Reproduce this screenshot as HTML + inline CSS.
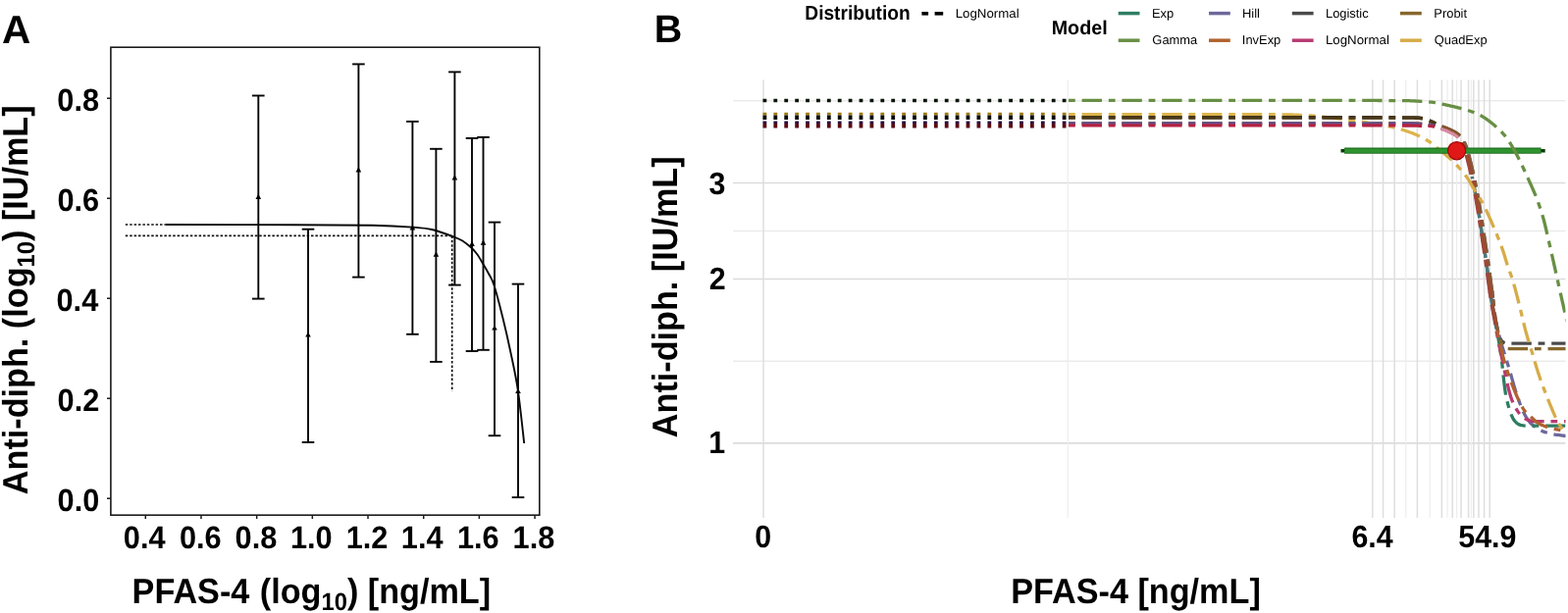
<!DOCTYPE html>
<html><head><meta charset="utf-8"><style>
html,body{margin:0;padding:0;background:#fff;}
svg{display:block;font-family:'Liberation Sans', Arial, Helvetica, sans-serif;text-rendering:geometricPrecision;}
</style></head><body>
<svg width="1598" height="625" viewBox="0 0 1598 625">
<rect width="1598" height="625" fill="#fff"/>
<text transform="translate(1.89,44.00) scale(1.0,1)" font-size="40.5" font-weight="bold" fill="#000" >A</text>
<rect x="112.9" y="48.2" width="436.9" height="477" fill="none" stroke="#1a1a1a" stroke-width="1.6"/>
<line x1="109" y1="508.20" x2="113" y2="508.20" stroke="#1a1a1a" stroke-width="1.5"/>
<text transform="translate(58.59,521.20) scale(0.955,1)" font-size="32.2" font-weight="bold" fill="#000" >0.0</text>
<line x1="109" y1="406.20" x2="113" y2="406.20" stroke="#1a1a1a" stroke-width="1.5"/>
<text transform="translate(58.59,419.20) scale(0.955,1)" font-size="32.2" font-weight="bold" fill="#000" >0.2</text>
<line x1="109" y1="304.20" x2="113" y2="304.20" stroke="#1a1a1a" stroke-width="1.5"/>
<text transform="translate(57.51,317.20) scale(0.955,1)" font-size="32.2" font-weight="bold" fill="#000" >0.4</text>
<line x1="109" y1="202.20" x2="113" y2="202.20" stroke="#1a1a1a" stroke-width="1.5"/>
<text transform="translate(58.43,215.20) scale(0.955,1)" font-size="32.2" font-weight="bold" fill="#000" >0.6</text>
<line x1="109" y1="100.20" x2="113" y2="100.20" stroke="#1a1a1a" stroke-width="1.5"/>
<text transform="translate(58.28,113.20) scale(0.955,1)" font-size="32.2" font-weight="bold" fill="#000" >0.8</text>
<line x1="148.30" y1="525" x2="148.30" y2="529" stroke="#1a1a1a" stroke-width="1.5"/>
<text transform="translate(125.79,559.20) scale(0.955,1)" font-size="32.2" font-weight="bold" fill="#000" >0.4</text>
<line x1="204.98" y1="525" x2="204.98" y2="529" stroke="#1a1a1a" stroke-width="1.5"/>
<text transform="translate(182.93,559.20) scale(0.955,1)" font-size="32.2" font-weight="bold" fill="#000" >0.6</text>
<line x1="261.66" y1="525" x2="261.66" y2="529" stroke="#1a1a1a" stroke-width="1.5"/>
<text transform="translate(239.53,559.20) scale(0.955,1)" font-size="32.2" font-weight="bold" fill="#000" >0.8</text>
<line x1="318.34" y1="525" x2="318.34" y2="529" stroke="#1a1a1a" stroke-width="1.5"/>
<text transform="translate(295.98,559.20) scale(0.955,1)" font-size="32.2" font-weight="bold" fill="#000" >1.0</text>
<line x1="375.02" y1="525" x2="375.02" y2="529" stroke="#1a1a1a" stroke-width="1.5"/>
<text transform="translate(352.66,559.20) scale(0.955,1)" font-size="32.2" font-weight="bold" fill="#000" >1.2</text>
<line x1="431.70" y1="525" x2="431.70" y2="529" stroke="#1a1a1a" stroke-width="1.5"/>
<text transform="translate(408.81,559.20) scale(0.955,1)" font-size="32.2" font-weight="bold" fill="#000" >1.4</text>
<line x1="488.38" y1="525" x2="488.38" y2="529" stroke="#1a1a1a" stroke-width="1.5"/>
<text transform="translate(465.95,559.20) scale(0.955,1)" font-size="32.2" font-weight="bold" fill="#000" >1.6</text>
<line x1="545.06" y1="525" x2="545.06" y2="529" stroke="#1a1a1a" stroke-width="1.5"/>
<text transform="translate(522.55,559.20) scale(0.955,1)" font-size="32.2" font-weight="bold" fill="#000" >1.8</text>
<text transform="translate(134.6,614.9) scale(0.95,1)" font-size="36.0" font-weight="bold">PFAS-4 <tspan dx="1.0">(log</tspan><tspan font-size="25" dy="7">10</tspan><tspan dy="-7">) [ng/mL]</tspan></text>
<text transform="translate(27.9,504.2) rotate(-90) scale(0.95,1)" font-size="36.0" font-weight="bold">Anti-diph. (log<tspan font-size="25" dy="7">10</tspan><tspan dy="-7">) [IU/mL]</tspan></text>
<line x1="127.8" y1="229" x2="168.4" y2="229" stroke="#111" stroke-width="1.7" stroke-dasharray="2.5 1.9"/>
<line x1="127.8" y1="240.4" x2="460.7" y2="240.4" stroke="#111" stroke-width="1.7" stroke-dasharray="2.5 1.9"/>
<line x1="460.7" y1="240.4" x2="460.7" y2="399" stroke="#111" stroke-width="1.7" stroke-dasharray="2.5 1.9"/>
<path d="M168.40,229.00 C190.33,229.03 264.73,229.07 300.00,229.20 C335.27,229.33 360.00,229.40 380.00,229.80 C400.00,230.20 410.00,230.90 420.00,231.60 C430.00,232.30 432.77,232.30 440.00,234.00 C447.23,235.70 458.07,239.80 463.40,241.80 C468.73,243.80 469.23,244.25 472.00,246.00 C474.77,247.75 477.58,250.05 480.00,252.30 C482.42,254.55 484.40,256.62 486.50,259.50 C488.60,262.38 490.68,266.35 492.60,269.60 C494.52,272.85 496.20,275.52 498.00,279.00 C499.80,282.48 501.00,283.00 503.40,290.50 C505.80,298.00 509.57,312.55 512.40,324.00 C515.23,335.45 517.83,346.93 520.40,359.20 C522.97,371.47 525.50,382.13 527.80,397.60 C530.10,413.07 533.13,442.93 534.20,452.00" fill="none" stroke="#0a0a0a" stroke-width="1.9"/>
<line x1="263.3" y1="97.5" x2="263.3" y2="304.6" stroke="#050505" stroke-width="1.9"/>
<line x1="257.0" y1="97.5" x2="269.6" y2="97.5" stroke="#050505" stroke-width="1.9"/>
<line x1="257.0" y1="304.6" x2="269.6" y2="304.6" stroke="#050505" stroke-width="1.9"/>
<path d="M263.3,197.8 L266.1,203.0 L260.5,203.0 Z" fill="#000"/>
<line x1="314.0" y1="233.7" x2="314.0" y2="450.9" stroke="#050505" stroke-width="1.9"/>
<line x1="307.7" y1="233.7" x2="320.3" y2="233.7" stroke="#050505" stroke-width="1.9"/>
<line x1="307.7" y1="450.9" x2="320.3" y2="450.9" stroke="#050505" stroke-width="1.9"/>
<path d="M314.0,338.4 L316.8,343.6 L311.2,343.6 Z" fill="#000"/>
<line x1="365.4" y1="65.4" x2="365.4" y2="282.6" stroke="#050505" stroke-width="1.9"/>
<line x1="359.1" y1="65.4" x2="371.7" y2="65.4" stroke="#050505" stroke-width="1.9"/>
<line x1="359.1" y1="282.6" x2="371.7" y2="282.6" stroke="#050505" stroke-width="1.9"/>
<path d="M365.4,170.3 L368.2,175.5 L362.6,175.5 Z" fill="#000"/>
<line x1="420.4" y1="123.9" x2="420.4" y2="340.8" stroke="#050505" stroke-width="1.9"/>
<line x1="414.1" y1="123.9" x2="426.7" y2="123.9" stroke="#050505" stroke-width="1.9"/>
<line x1="414.1" y1="340.8" x2="426.7" y2="340.8" stroke="#050505" stroke-width="1.9"/>
<path d="M420.4,229.2 L423.2,234.4 L417.6,234.4 Z" fill="#000"/>
<line x1="444.4" y1="151.8" x2="444.4" y2="368.9" stroke="#050505" stroke-width="1.9"/>
<line x1="438.1" y1="151.8" x2="450.7" y2="151.8" stroke="#050505" stroke-width="1.9"/>
<line x1="438.1" y1="368.9" x2="450.7" y2="368.9" stroke="#050505" stroke-width="1.9"/>
<path d="M444.4,256.6 L447.2,261.8 L441.6,261.8 Z" fill="#000"/>
<line x1="463.4" y1="73.4" x2="463.4" y2="290.6" stroke="#050505" stroke-width="1.9"/>
<line x1="457.1" y1="73.4" x2="469.7" y2="73.4" stroke="#050505" stroke-width="1.9"/>
<line x1="457.1" y1="290.6" x2="469.7" y2="290.6" stroke="#050505" stroke-width="1.9"/>
<path d="M463.4,178.2 L466.2,183.4 L460.6,183.4 Z" fill="#000"/>
<line x1="481.0" y1="140.9" x2="481.0" y2="358.0" stroke="#050505" stroke-width="1.9"/>
<line x1="474.7" y1="140.9" x2="487.3" y2="140.9" stroke="#050505" stroke-width="1.9"/>
<line x1="474.7" y1="358.0" x2="487.3" y2="358.0" stroke="#050505" stroke-width="1.9"/>
<path d="M481.0,245.8 L483.8,251.0 L478.2,251.0 Z" fill="#000"/>
<line x1="492.5" y1="139.9" x2="492.5" y2="356.8" stroke="#050505" stroke-width="1.9"/>
<line x1="486.2" y1="139.9" x2="498.8" y2="139.9" stroke="#050505" stroke-width="1.9"/>
<line x1="486.2" y1="356.8" x2="498.8" y2="356.8" stroke="#050505" stroke-width="1.9"/>
<path d="M492.5,244.6 L495.3,249.8 L489.7,249.8 Z" fill="#000"/>
<line x1="504.0" y1="226.6" x2="504.0" y2="444.2" stroke="#050505" stroke-width="1.9"/>
<line x1="497.7" y1="226.6" x2="510.3" y2="226.6" stroke="#050505" stroke-width="1.9"/>
<line x1="497.7" y1="444.2" x2="510.3" y2="444.2" stroke="#050505" stroke-width="1.9"/>
<path d="M504.0,331.4 L506.8,336.6 L501.2,336.6 Z" fill="#000"/>
<line x1="528.0" y1="289.6" x2="528.0" y2="507.1" stroke="#050505" stroke-width="1.9"/>
<line x1="521.7" y1="289.6" x2="534.3" y2="289.6" stroke="#050505" stroke-width="1.9"/>
<line x1="521.7" y1="507.1" x2="534.3" y2="507.1" stroke="#050505" stroke-width="1.9"/>
<path d="M528.0,395.9 L530.8,401.1 L525.2,401.1 Z" fill="#000"/>
<text transform="translate(666.63,42.70) scale(1.0,1)" font-size="39.5" font-weight="bold" fill="#000" >B</text>
<line x1="747" y1="368.14" x2="1595.5" y2="368.14" stroke="#ebebeb" stroke-width="1.5"/>
<line x1="747" y1="235.48" x2="1595.5" y2="235.48" stroke="#ebebeb" stroke-width="1.5"/>
<line x1="747" y1="102.82" x2="1595.5" y2="102.82" stroke="#ebebeb" stroke-width="1.5"/>
<line x1="747" y1="451.84" x2="1595.5" y2="451.84" stroke="#dcdcdc" stroke-width="1.6"/>
<line x1="747" y1="284.44" x2="1595.5" y2="284.44" stroke="#dcdcdc" stroke-width="1.6"/>
<line x1="747" y1="186.51" x2="1595.5" y2="186.51" stroke="#dcdcdc" stroke-width="1.6"/>
<line x1="1088.2" y1="81.5" x2="1088.2" y2="528" stroke="#ededed" stroke-width="1.2"/>
<line x1="1432.8" y1="81.5" x2="1432.8" y2="528" stroke="#ededed" stroke-width="1.2"/>
<line x1="1457.2" y1="81.5" x2="1457.2" y2="528" stroke="#ededed" stroke-width="1.2"/>
<line x1="1475" y1="81.5" x2="1475" y2="528" stroke="#ededed" stroke-width="1.2"/>
<line x1="1484.6" y1="81.5" x2="1484.6" y2="528" stroke="#ededed" stroke-width="1.2"/>
<line x1="1499.4" y1="81.5" x2="1499.4" y2="528" stroke="#ededed" stroke-width="1.2"/>
<line x1="778" y1="81.5" x2="778" y2="528" stroke="#dedede" stroke-width="1.5"/>
<line x1="1398.8" y1="81.5" x2="1398.8" y2="528" stroke="#dedede" stroke-width="1.5"/>
<line x1="1409.6" y1="81.5" x2="1409.6" y2="528" stroke="#dedede" stroke-width="1.5"/>
<line x1="1421.2" y1="81.5" x2="1421.2" y2="528" stroke="#dedede" stroke-width="1.5"/>
<line x1="1444.4" y1="81.5" x2="1444.4" y2="528" stroke="#dedede" stroke-width="1.5"/>
<line x1="1469.4" y1="81.5" x2="1469.4" y2="528" stroke="#dedede" stroke-width="1.5"/>
<line x1="1480.2" y1="81.5" x2="1480.2" y2="528" stroke="#dedede" stroke-width="1.5"/>
<line x1="1489" y1="81.5" x2="1489" y2="528" stroke="#dedede" stroke-width="1.5"/>
<line x1="1496.6" y1="81.5" x2="1496.6" y2="528" stroke="#dedede" stroke-width="1.5"/>
<line x1="1501.8" y1="81.5" x2="1501.8" y2="528" stroke="#dedede" stroke-width="1.5"/>
<line x1="1507" y1="81.5" x2="1507" y2="528" stroke="#dedede" stroke-width="1.5"/>
<line x1="1512.6" y1="81.5" x2="1512.6" y2="528" stroke="#dedede" stroke-width="1.5"/>
<line x1="1518.2" y1="81.5" x2="1518.2" y2="528" stroke="#dedede" stroke-width="1.5"/>
<text transform="translate(722.29,462.14) scale(0.95,1)" font-size="32.0" font-weight="bold" fill="#000" >1</text>
<text transform="translate(722.74,295.24) scale(0.95,1)" font-size="32.0" font-weight="bold" fill="#000" >2</text>
<text transform="translate(722.59,197.61) scale(0.95,1)" font-size="32.0" font-weight="bold" fill="#000" >3</text>
<text transform="translate(769.16,557.70) scale(0.95,1)" font-size="32.0" font-weight="bold" fill="#000" >0</text>
<text transform="translate(1377.42,557.70) scale(0.95,1)" font-size="32.0" font-weight="bold" fill="#000" >6.4</text>
<text transform="translate(1486.31,557.70) scale(0.95,1)" font-size="32.0" font-weight="bold" fill="#000" >54.9</text>
<text transform="translate(1030.18,615.00) scale(0.95,1)" font-size="36.0" font-weight="bold" fill="#000" >PFAS-4 [ng/mL]</text>
<text transform="translate(690,446.2) rotate(-90) scale(0.95,1)" font-size="36.0" font-weight="bold">Anti-diph. [IU/mL]</text>
<text transform="translate(820.36,20.30) scale(0.9425,1)" font-size="20.3" font-weight="bold" fill="#000" >Distribution</text>
<rect x="939.4" y="12" width="6.7" height="3.6" fill="#000"/>
<rect x="952.6" y="12" width="8.6" height="3.6" fill="#000"/>
<text transform="translate(973.64,17.80) scale(1.03,1)" font-size="12.9" font-weight="normal" fill="#000" >LogNormal</text>
<text transform="translate(1071.72,34.50) scale(0.99,1)" font-size="19.9" font-weight="bold" fill="#000" >Model</text>
<line x1="1139.7" y1="13.6" x2="1161.5" y2="13.6" stroke="#2E7D62" stroke-width="3.5"/>
<text transform="translate(1173.97,17.60) scale(1.0,1)" font-size="12.9" font-weight="normal" fill="#000" >Exp</text>
<line x1="1139.7" y1="41.2" x2="1161.5" y2="41.2" stroke="#688F44" stroke-width="3.5"/>
<text transform="translate(1174.36,45.20) scale(1.0,1)" font-size="12.9" font-weight="normal" fill="#000" >Gamma</text>
<line x1="1232" y1="13.6" x2="1253.8" y2="13.6" stroke="#6C689C" stroke-width="3.5"/>
<text transform="translate(1265.97,17.60) scale(1.0,1)" font-size="12.9" font-weight="normal" fill="#000" >Hill</text>
<line x1="1232" y1="41.2" x2="1253.8" y2="41.2" stroke="#B0622E" stroke-width="3.5"/>
<text transform="translate(1265.84,45.20) scale(1.0,1)" font-size="12.9" font-weight="normal" fill="#000" >InvExp</text>
<line x1="1316.8" y1="13.6" x2="1338.6" y2="13.6" stroke="#4a4a4a" stroke-width="3.5"/>
<text transform="translate(1350.97,17.60) scale(1.0,1)" font-size="12.9" font-weight="normal" fill="#000" >Logistic</text>
<line x1="1316.8" y1="41.2" x2="1338.6" y2="41.2" stroke="#B83A72" stroke-width="3.5"/>
<text transform="translate(1350.94,45.20) scale(1.03,1)" font-size="12.9" font-weight="normal" fill="#000" >LogNormal</text>
<line x1="1427" y1="13.6" x2="1448.8" y2="13.6" stroke="#86672C" stroke-width="3.5"/>
<text transform="translate(1461.37,17.60) scale(1.0,1)" font-size="12.9" font-weight="normal" fill="#000" >Probit</text>
<line x1="1427" y1="41.2" x2="1448.8" y2="41.2" stroke="#D6AC48" stroke-width="3.5"/>
<text transform="translate(1461.82,45.20) scale(1.0,1)" font-size="12.9" font-weight="normal" fill="#000" >QuadExp</text>
<line x1="777.5" y1="102.5" x2="1088" y2="102.5" stroke="#0a140a" stroke-width="3.5" stroke-dasharray="3.8 7.1"/>
<line x1="777.5" y1="116.1" x2="1088" y2="116.1" stroke="#a07a10" stroke-width="2.6" stroke-dasharray="3.8 7.1"/>
<line x1="777.5" y1="119.65" x2="1088" y2="119.65" stroke="#070707" stroke-width="4.5" stroke-dasharray="3.8 7.1"/>
<line x1="777.5" y1="124.75" x2="1088" y2="124.75" stroke="#2a1040" stroke-width="2.5" stroke-dasharray="3.8 7.1"/>
<line x1="777.5" y1="128.25" x2="1088" y2="128.25" stroke="#5a0a14" stroke-width="4.5" stroke-dasharray="3.8 7.1"/>
<defs><clipPath id="pc"><rect x="747" y="81" width="848.5" height="447"/></clipPath></defs>
<g fill="none" stroke-width="3.3" clip-path="url(#pc)">
<path d="M1089.00,126.00L1090.80,126.00L1092.40,126.00L1094.00,126.00L1095.60,126.00L1095.80,126.00" stroke="#2E7D62"/>
<path d="M1102.60,126.00L1104.40,126.00L1106.00,126.00L1107.60,126.00L1109.20,126.00L1110.80,126.00L1112.40,126.00L1114.00,126.00L1115.60,126.00L1117.20,126.00L1118.80,126.00L1120.40,126.00L1122.00,126.00L1123.00,126.00" stroke="#2E7D62"/>
<path d="M1129.80,126.00L1131.60,126.00L1133.20,126.00L1134.80,126.00L1136.40,126.00L1136.60,126.00" stroke="#2E7D62"/>
<path d="M1143.40,126.00L1145.20,126.00L1146.80,126.00L1148.40,126.00L1150.00,126.00L1151.60,126.00L1153.20,126.00L1154.80,126.00L1156.40,126.00L1158.00,126.00L1159.60,126.00L1161.20,126.00L1162.80,126.00L1163.80,126.00" stroke="#2E7D62"/>
<path d="M1170.60,126.00L1172.40,126.00L1174.00,126.00L1175.60,126.00L1177.20,126.00L1177.40,126.00" stroke="#2E7D62"/>
<path d="M1184.20,126.01L1186.00,126.01L1187.60,126.01L1189.20,126.01L1190.80,126.01L1192.40,126.01L1194.00,126.01L1195.60,126.01L1197.20,126.01L1198.80,126.01L1200.40,126.01L1202.00,126.01L1203.60,126.01L1204.60,126.01" stroke="#2E7D62"/>
<path d="M1211.40,126.01L1213.20,126.01L1214.80,126.01L1216.40,126.01L1218.00,126.01L1218.20,126.01" stroke="#2E7D62"/>
<path d="M1225.00,126.01L1226.80,126.01L1228.40,126.02L1230.00,126.02L1231.60,126.02L1233.20,126.02L1234.80,126.02L1236.40,126.02L1238.00,126.02L1239.60,126.02L1241.20,126.02L1242.80,126.02L1244.40,126.02L1245.40,126.02" stroke="#2E7D62"/>
<path d="M1252.20,126.02L1254.00,126.02L1255.60,126.02L1257.20,126.03L1258.80,126.03L1259.00,126.03" stroke="#2E7D62"/>
<path d="M1265.80,126.03L1267.60,126.03L1269.20,126.03L1270.80,126.03L1272.40,126.03L1274.00,126.03L1275.60,126.03L1277.20,126.03L1278.80,126.04L1280.40,126.04L1282.00,126.04L1283.60,126.04L1285.20,126.04L1286.20,126.04" stroke="#2E7D62"/>
<path d="M1293.00,126.04L1294.80,126.04L1296.40,126.05L1298.00,126.05L1299.60,126.05L1299.80,126.05" stroke="#2E7D62"/>
<path d="M1306.60,126.05L1308.40,126.05L1310.00,126.05L1311.60,126.06L1313.20,126.06L1314.80,126.06L1316.40,126.06L1318.00,126.06L1319.60,126.06L1321.20,126.06L1322.80,126.06L1324.40,126.06L1326.00,126.07L1327.00,126.07" stroke="#2E7D62"/>
<path d="M1333.80,126.07L1335.60,126.07L1337.20,126.08L1338.80,126.08L1340.40,126.08L1340.60,126.08" stroke="#2E7D62"/>
<path d="M1347.40,126.08L1349.20,126.09L1350.80,126.09L1352.40,126.09L1354.00,126.09L1355.60,126.09L1357.20,126.09L1358.80,126.09L1360.40,126.10L1362.00,126.10L1363.60,126.10L1365.20,126.10L1366.80,126.10L1367.80,126.10" stroke="#2E7D62"/>
<path d="M1374.60,126.11L1376.40,126.11L1378.00,126.12L1379.60,126.12L1381.20,126.12L1381.40,126.12" stroke="#2E7D62"/>
<path d="M1388.20,126.13L1390.00,126.13L1391.60,126.13L1393.20,126.13L1394.80,126.14L1396.40,126.14L1398.00,126.14L1399.60,126.14L1401.20,126.14L1402.80,126.15L1404.40,126.15L1406.00,126.15L1407.60,126.15L1408.60,126.15" stroke="#2E7D62"/>
<path d="M1415.40,126.16L1417.20,126.17L1418.80,126.17L1420.40,126.17L1422.00,126.17L1422.20,126.17" stroke="#2E7D62"/>
<path d="M1429.00,126.18L1430.80,126.19L1432.40,126.19L1434.00,126.19L1435.60,126.19L1437.20,126.20L1438.80,126.20L1440.38,126.20L1441.94,126.23L1443.50,126.29L1445.06,126.38L1446.63,126.47L1448.21,126.55L1449.20,126.59" stroke="#2E7D62"/>
<path d="M1455.78,127.07L1457.53,127.36L1459.09,127.66L1460.64,127.98L1462.15,128.37L1462.34,128.43" stroke="#2E7D62"/>
<path d="M1089.00,125.60L1090.80,125.60L1092.40,125.60L1094.00,125.60L1095.60,125.60L1095.80,125.60" stroke="#B0622E"/>
<path d="M1102.60,125.60L1104.40,125.60L1106.00,125.60L1107.60,125.60L1109.20,125.60L1110.80,125.60L1112.40,125.60L1114.00,125.60L1115.60,125.60L1117.20,125.60L1118.80,125.60L1120.40,125.60L1122.00,125.60L1123.00,125.60" stroke="#B0622E"/>
<path d="M1129.80,125.60L1131.60,125.60L1133.20,125.60L1134.80,125.60L1136.40,125.60L1136.60,125.60" stroke="#B0622E"/>
<path d="M1143.40,125.60L1145.20,125.60L1146.80,125.60L1148.40,125.60L1150.00,125.60L1151.60,125.60L1153.20,125.60L1154.80,125.60L1156.40,125.60L1158.00,125.60L1159.60,125.60L1161.20,125.60L1162.80,125.60L1163.80,125.60" stroke="#B0622E"/>
<path d="M1170.60,125.60L1172.40,125.60L1174.00,125.60L1175.60,125.60L1177.20,125.60L1177.40,125.60" stroke="#B0622E"/>
<path d="M1184.20,125.61L1186.00,125.61L1187.60,125.61L1189.20,125.61L1190.80,125.61L1192.40,125.61L1194.00,125.61L1195.60,125.61L1197.20,125.61L1198.80,125.61L1200.40,125.61L1202.00,125.61L1203.60,125.61L1204.60,125.61" stroke="#B0622E"/>
<path d="M1211.40,125.61L1213.20,125.61L1214.80,125.61L1216.40,125.61L1218.00,125.61L1218.20,125.61" stroke="#B0622E"/>
<path d="M1225.00,125.61L1226.80,125.61L1228.40,125.62L1230.00,125.62L1231.60,125.62L1233.20,125.62L1234.80,125.62L1236.40,125.62L1238.00,125.62L1239.60,125.62L1241.20,125.62L1242.80,125.62L1244.40,125.62L1245.40,125.62" stroke="#B0622E"/>
<path d="M1252.20,125.62L1254.00,125.62L1255.60,125.62L1257.20,125.63L1258.80,125.63L1259.00,125.63" stroke="#B0622E"/>
<path d="M1265.80,125.63L1267.60,125.63L1269.20,125.63L1270.80,125.63L1272.40,125.63L1274.00,125.63L1275.60,125.63L1277.20,125.63L1278.80,125.64L1280.40,125.64L1282.00,125.64L1283.60,125.64L1285.20,125.64L1286.20,125.64" stroke="#B0622E"/>
<path d="M1293.00,125.64L1294.80,125.64L1296.40,125.65L1298.00,125.65L1299.60,125.65L1299.80,125.65" stroke="#B0622E"/>
<path d="M1306.60,125.65L1308.40,125.65L1310.00,125.65L1311.60,125.66L1313.20,125.66L1314.80,125.66L1316.40,125.66L1318.00,125.66L1319.60,125.66L1321.20,125.66L1322.80,125.66L1324.40,125.66L1326.00,125.67L1327.00,125.67" stroke="#B0622E"/>
<path d="M1333.80,125.67L1335.60,125.67L1337.20,125.68L1338.80,125.68L1340.40,125.68L1340.60,125.68" stroke="#B0622E"/>
<path d="M1347.40,125.68L1349.20,125.69L1350.80,125.69L1352.40,125.69L1354.00,125.69L1355.60,125.69L1357.20,125.69L1358.80,125.69L1360.40,125.70L1362.00,125.70L1363.60,125.70L1365.20,125.70L1366.80,125.70L1367.80,125.70" stroke="#B0622E"/>
<path d="M1374.60,125.71L1376.40,125.71L1378.00,125.72L1379.60,125.72L1381.20,125.72L1381.40,125.72" stroke="#B0622E"/>
<path d="M1388.20,125.73L1390.00,125.73L1391.60,125.73L1393.20,125.73L1394.80,125.74L1396.40,125.74L1398.00,125.74L1399.60,125.74L1401.20,125.74L1402.80,125.75L1404.40,125.75L1406.00,125.75L1407.60,125.75L1408.60,125.75" stroke="#B0622E"/>
<path d="M1415.40,125.76L1417.20,125.77L1418.80,125.77L1420.40,125.77L1422.00,125.77L1422.20,125.77" stroke="#B0622E"/>
<path d="M1429.00,125.78L1430.80,125.79L1432.40,125.79L1434.00,125.79L1435.60,125.79L1437.20,125.80L1438.80,125.80L1440.39,125.80L1441.95,125.83L1443.52,125.89L1445.09,125.98L1446.67,126.08L1448.25,126.17L1449.24,126.22" stroke="#B0622E"/>
<path d="M1455.84,126.80L1457.59,127.13L1459.15,127.45L1460.69,127.80L1462.21,128.22L1462.40,128.27" stroke="#B0622E"/>
<path d="M1089.00,116.60L1090.50,116.60L1092.00,116.60L1093.50,116.60L1095.00,116.60L1095.80,116.60" stroke="#dcb44c"/>
<path d="M1102.60,116.60L1104.10,116.60L1105.60,116.60L1107.10,116.60L1108.60,116.60L1110.10,116.60L1111.60,116.60L1113.10,116.60L1114.60,116.60L1116.10,116.60L1117.60,116.60L1119.10,116.60L1120.60,116.60L1122.10,116.60L1123.00,116.60" stroke="#dcb44c"/>
<path d="M1129.80,116.60L1131.30,116.60L1132.80,116.60L1134.30,116.60L1135.80,116.60L1136.60,116.60" stroke="#dcb44c"/>
<path d="M1143.40,116.60L1144.90,116.60L1146.40,116.60L1147.90,116.60L1149.40,116.60L1150.90,116.61L1152.40,116.61L1153.90,116.61L1155.40,116.61L1156.90,116.61L1158.40,116.61L1159.90,116.61L1161.40,116.61L1162.90,116.61L1163.80,116.61" stroke="#dcb44c"/>
<path d="M1170.60,116.61L1172.10,116.61L1173.60,116.61L1175.10,116.61L1176.60,116.61L1177.40,116.61" stroke="#dcb44c"/>
<path d="M1184.20,116.61L1185.70,116.61L1187.20,116.61L1188.70,116.62L1190.20,116.62L1191.70,116.62L1193.20,116.62L1194.70,116.62L1196.20,116.62L1197.70,116.62L1199.20,116.62L1200.70,116.62L1202.20,116.62L1203.70,116.62L1204.60,116.62" stroke="#dcb44c"/>
<path d="M1211.40,116.63L1212.90,116.63L1214.40,116.63L1215.90,116.63L1217.40,116.63L1218.20,116.63" stroke="#dcb44c"/>
<path d="M1225.00,116.63L1226.50,116.63L1228.00,116.63L1229.50,116.64L1231.00,116.64L1232.50,116.64L1234.00,116.64L1235.50,116.64L1237.00,116.64L1238.50,116.64L1240.00,116.64L1241.50,116.64L1243.00,116.64L1244.50,116.65L1245.40,116.65" stroke="#dcb44c"/>
<path d="M1252.20,116.65L1253.70,116.65L1255.20,116.65L1256.70,116.66L1258.20,116.66L1259.00,116.66" stroke="#dcb44c"/>
<path d="M1265.80,116.66L1267.30,116.66L1268.80,116.67L1270.30,116.67L1271.80,116.67L1273.30,116.67L1274.80,116.67L1276.30,116.67L1277.80,116.68L1279.30,116.68L1280.80,116.68L1282.30,116.68L1283.80,116.68L1285.30,116.68L1286.20,116.68" stroke="#dcb44c"/>
<path d="M1293.00,116.69L1294.50,116.69L1296.00,116.70L1297.50,116.70L1299.00,116.70L1299.80,116.70" stroke="#dcb44c"/>
<path d="M1306.60,116.76L1308.10,116.78L1309.60,116.81L1311.10,116.84L1312.60,116.88L1314.10,116.92L1315.60,116.96L1317.10,117.01L1318.60,117.06L1320.10,117.11L1321.60,117.17L1323.10,117.22L1324.60,117.28L1326.10,117.34L1326.99,117.38" stroke="#dcb44c"/>
<path d="M1333.78,117.70L1335.30,117.81L1336.80,117.93L1338.30,118.05L1339.80,118.19L1340.56,118.26" stroke="#dcb44c"/>
<path d="M1347.32,118.99L1348.85,119.17L1350.35,119.35L1351.85,119.53L1353.35,119.71L1354.85,119.89L1356.35,120.07L1357.85,120.25L1359.35,120.43L1360.85,120.60L1362.35,120.77L1363.85,120.95L1365.35,121.13L1366.85,121.31L1367.58,121.40" stroke="#dcb44c"/>
<path d="M1374.32,122.27L1375.85,122.47L1377.35,122.68L1378.85,122.88L1380.35,123.09L1381.06,123.19" stroke="#dcb44c"/>
<path d="M1387.79,124.17L1389.30,124.39L1390.80,124.62L1392.30,124.85L1393.80,125.08L1395.30,125.31L1396.80,125.54L1398.30,125.77L1399.80,126.01L1401.30,126.25L1402.80,126.49L1404.30,126.74L1405.80,127.00L1407.30,127.26L1407.93,127.37" stroke="#dcb44c"/>
<path d="M1414.61,128.64L1416.10,128.94L1417.60,129.26L1419.10,129.60L1420.60,129.94L1421.26,130.09" stroke="#dcb44c"/>
<path d="M1427.83,131.84L1429.30,132.29L1430.75,132.74L1432.20,133.20L1433.65,133.69L1435.10,134.19L1436.55,134.70L1438.00,135.24L1439.45,135.79L1440.85,136.34L1442.25,136.91L1443.65,137.51L1445.05,138.15L1446.45,138.81L1446.90,139.02" stroke="#dcb44c"/>
<path d="M1452.90,142.22L1454.20,142.99L1455.50,143.78L1456.80,144.60L1458.05,145.45L1458.63,145.88" stroke="#dcb44c"/>
<path d="M1089.00,119.60L1090.80,119.60L1092.40,119.60L1094.00,119.60L1095.60,119.60L1095.80,119.60" stroke="#332c22"/>
<path d="M1102.60,119.60L1104.40,119.60L1106.00,119.60L1107.60,119.60L1109.20,119.60L1110.80,119.60L1112.40,119.60L1114.00,119.60L1115.60,119.60L1117.20,119.60L1118.80,119.60L1120.40,119.60L1122.00,119.60L1123.00,119.60" stroke="#332c22"/>
<path d="M1129.80,119.60L1131.60,119.60L1133.20,119.60L1134.80,119.60L1136.40,119.60L1136.60,119.60" stroke="#332c22"/>
<path d="M1143.40,119.60L1145.20,119.60L1146.80,119.60L1148.40,119.60L1150.00,119.60L1151.60,119.60L1153.20,119.60L1154.80,119.60L1156.40,119.60L1158.00,119.60L1159.60,119.60L1161.20,119.60L1162.80,119.60L1163.80,119.60" stroke="#332c22"/>
<path d="M1170.60,119.60L1172.40,119.60L1174.00,119.60L1175.60,119.60L1177.20,119.60L1177.40,119.60" stroke="#332c22"/>
<path d="M1184.20,119.61L1186.00,119.61L1187.60,119.61L1189.20,119.61L1190.80,119.61L1192.40,119.61L1194.00,119.61L1195.60,119.61L1197.20,119.61L1198.80,119.61L1200.40,119.61L1202.00,119.61L1203.60,119.61L1204.60,119.61" stroke="#332c22"/>
<path d="M1211.40,119.61L1213.20,119.61L1214.80,119.61L1216.40,119.61L1218.00,119.61L1218.20,119.61" stroke="#332c22"/>
<path d="M1225.00,119.61L1226.80,119.61L1228.40,119.62L1230.00,119.62L1231.60,119.62L1233.20,119.62L1234.80,119.62L1236.40,119.62L1238.00,119.62L1239.60,119.62L1241.20,119.62L1242.80,119.62L1244.40,119.62L1245.40,119.62" stroke="#332c22"/>
<path d="M1252.20,119.62L1254.00,119.62L1255.60,119.62L1257.20,119.63L1258.80,119.63L1259.00,119.63" stroke="#332c22"/>
<path d="M1265.80,119.63L1267.60,119.63L1269.20,119.63L1270.80,119.63L1272.40,119.63L1274.00,119.63L1275.60,119.63L1277.20,119.63L1278.80,119.64L1280.40,119.64L1282.00,119.64L1283.60,119.64L1285.20,119.64L1286.20,119.64" stroke="#332c22"/>
<path d="M1293.00,119.64L1294.80,119.64L1296.40,119.65L1298.00,119.65L1299.60,119.65L1299.80,119.65" stroke="#332c22"/>
<path d="M1306.60,119.65L1308.40,119.65L1310.00,119.65L1311.60,119.66L1313.20,119.66L1314.80,119.66L1316.40,119.66L1318.00,119.66L1319.60,119.66L1321.20,119.66L1322.80,119.66L1324.40,119.66L1326.00,119.67L1327.00,119.67" stroke="#332c22"/>
<path d="M1333.80,119.67L1335.60,119.67L1337.20,119.68L1338.80,119.68L1340.40,119.68L1340.60,119.68" stroke="#332c22"/>
<path d="M1347.40,119.68L1349.20,119.69L1350.80,119.69L1352.40,119.69L1354.00,119.69L1355.60,119.69L1357.20,119.69L1358.80,119.69L1360.40,119.70L1362.00,119.70L1363.60,119.70L1365.20,119.70L1366.80,119.70L1367.80,119.70" stroke="#332c22"/>
<path d="M1374.60,119.71L1376.40,119.71L1378.00,119.72L1379.60,119.72L1381.21,119.72L1381.41,119.72" stroke="#332c22"/>
<path d="M1388.21,119.73L1390.01,119.73L1391.61,119.73L1393.21,119.73L1394.81,119.74L1396.41,119.74L1398.01,119.74L1399.61,119.74L1401.21,119.74L1402.81,119.75L1404.41,119.75L1406.01,119.75L1407.61,119.75L1408.61,119.75" stroke="#332c22"/>
<path d="M1415.41,119.76L1417.21,119.77L1418.81,119.77L1420.41,119.77L1422.01,119.77L1422.21,119.77" stroke="#332c22"/>
<path d="M1429.01,119.78L1430.81,119.79L1432.41,119.79L1434.01,119.79L1435.61,119.79L1437.21,119.80L1438.81,119.80L1440.43,119.80L1442.13,119.83L1443.81,119.90L1445.48,120.00L1447.14,120.17L1448.77,120.43L1449.78,120.64" stroke="#332c22"/>
<path d="M1456.80,122.85L1458.53,123.65L1460.02,124.36L1461.54,125.08L1463.06,125.84L1463.24,125.94" stroke="#332c22"/>
<path d="M1089.00,120.00L1090.80,120.00L1092.40,120.00L1094.00,120.00L1095.60,120.00L1095.80,120.00" stroke="#4a3818"/>
<path d="M1102.60,120.00L1104.40,120.00L1106.00,120.00L1107.60,120.00L1109.20,120.00L1110.80,120.00L1112.40,120.00L1114.00,120.00L1115.60,120.00L1117.20,120.00L1118.80,120.00L1120.40,120.00L1122.00,120.00L1123.00,120.00" stroke="#4a3818"/>
<path d="M1129.80,120.00L1131.60,120.00L1133.20,120.00L1134.80,120.00L1136.40,120.00L1136.60,120.00" stroke="#4a3818"/>
<path d="M1143.40,120.00L1145.20,120.00L1146.80,120.00L1148.40,120.00L1150.00,120.00L1151.60,120.00L1153.20,120.00L1154.80,120.00L1156.40,120.00L1158.00,120.00L1159.60,120.00L1161.20,120.00L1162.80,120.00L1163.80,120.00" stroke="#4a3818"/>
<path d="M1170.60,120.00L1172.40,120.00L1174.00,120.00L1175.60,120.00L1177.20,120.00L1177.40,120.00" stroke="#4a3818"/>
<path d="M1184.20,120.01L1186.00,120.01L1187.60,120.01L1189.20,120.01L1190.80,120.01L1192.40,120.01L1194.00,120.01L1195.60,120.01L1197.20,120.01L1198.80,120.01L1200.40,120.01L1202.00,120.01L1203.60,120.01L1204.60,120.01" stroke="#4a3818"/>
<path d="M1211.40,120.01L1213.20,120.01L1214.80,120.01L1216.40,120.01L1218.00,120.01L1218.20,120.01" stroke="#4a3818"/>
<path d="M1225.00,120.01L1226.80,120.01L1228.40,120.02L1230.00,120.02L1231.60,120.02L1233.20,120.02L1234.80,120.02L1236.40,120.02L1238.00,120.02L1239.60,120.02L1241.20,120.02L1242.80,120.02L1244.40,120.02L1245.40,120.02" stroke="#4a3818"/>
<path d="M1252.20,120.02L1254.00,120.02L1255.60,120.02L1257.20,120.03L1258.80,120.03L1259.00,120.03" stroke="#4a3818"/>
<path d="M1265.80,120.03L1267.60,120.03L1269.20,120.03L1270.80,120.03L1272.40,120.03L1274.00,120.03L1275.60,120.03L1277.20,120.03L1278.80,120.04L1280.40,120.04L1282.00,120.04L1283.60,120.04L1285.20,120.04L1286.20,120.04" stroke="#4a3818"/>
<path d="M1293.00,120.04L1294.80,120.04L1296.40,120.05L1298.00,120.05L1299.60,120.05L1299.80,120.05" stroke="#4a3818"/>
<path d="M1306.60,120.05L1308.40,120.05L1310.00,120.05L1311.60,120.06L1313.20,120.06L1314.80,120.06L1316.40,120.06L1318.00,120.06L1319.60,120.06L1321.20,120.06L1322.80,120.06L1324.40,120.06L1326.00,120.07L1327.00,120.07" stroke="#4a3818"/>
<path d="M1333.80,120.07L1335.60,120.07L1337.20,120.08L1338.80,120.08L1340.40,120.08L1340.60,120.08" stroke="#4a3818"/>
<path d="M1347.40,120.08L1349.20,120.09L1350.80,120.09L1352.40,120.09L1354.00,120.09L1355.60,120.09L1357.20,120.09L1358.80,120.09L1360.40,120.10L1362.00,120.10L1363.60,120.10L1365.20,120.10L1366.80,120.10L1367.80,120.10" stroke="#4a3818"/>
<path d="M1374.60,120.11L1376.40,120.11L1378.00,120.12L1379.60,120.12L1381.20,120.12L1381.40,120.12" stroke="#4a3818"/>
<path d="M1388.20,120.13L1390.00,120.13L1391.60,120.13L1393.20,120.13L1394.80,120.14L1396.41,120.14L1398.01,120.14L1399.61,120.14L1401.21,120.14L1402.81,120.15L1404.41,120.15L1406.01,120.15L1407.61,120.15L1408.61,120.15" stroke="#4a3818"/>
<path d="M1415.41,120.16L1417.21,120.17L1418.81,120.17L1420.41,120.17L1422.01,120.17L1422.21,120.17" stroke="#4a3818"/>
<path d="M1429.01,120.18L1430.81,120.19L1432.41,120.19L1434.01,120.19L1435.61,120.19L1437.21,120.20L1438.81,120.20L1440.43,120.20L1442.12,120.23L1443.79,120.30L1445.46,120.40L1447.10,120.56L1448.73,120.81L1449.74,121.01" stroke="#4a3818"/>
<path d="M1456.74,123.12L1458.47,123.88L1459.96,124.57L1461.48,125.26L1463.00,126.00L1463.19,126.09" stroke="#4a3818"/>
<path d="M1089.00,125.80L1090.80,125.80L1092.40,125.80L1094.00,125.80L1095.60,125.80L1095.80,125.80" stroke="#5e5290"/>
<path d="M1102.60,125.80L1104.40,125.80L1106.00,125.80L1107.60,125.80L1109.20,125.80L1110.80,125.80L1112.40,125.80L1114.00,125.80L1115.60,125.80L1117.20,125.80L1118.80,125.80L1120.40,125.80L1122.00,125.80L1123.00,125.80" stroke="#5e5290"/>
<path d="M1129.80,125.80L1131.60,125.80L1133.20,125.80L1134.80,125.80L1136.40,125.80L1136.60,125.80" stroke="#5e5290"/>
<path d="M1143.40,125.80L1145.20,125.80L1146.80,125.80L1148.40,125.80L1150.00,125.80L1151.60,125.80L1153.20,125.80L1154.80,125.80L1156.40,125.80L1158.00,125.80L1159.60,125.80L1161.20,125.80L1162.80,125.80L1163.80,125.80" stroke="#5e5290"/>
<path d="M1170.60,125.80L1172.40,125.80L1174.00,125.80L1175.60,125.80L1177.20,125.80L1177.40,125.80" stroke="#5e5290"/>
<path d="M1184.20,125.81L1186.00,125.81L1187.60,125.81L1189.20,125.81L1190.80,125.81L1192.40,125.81L1194.00,125.81L1195.60,125.81L1197.20,125.81L1198.80,125.81L1200.40,125.81L1202.00,125.81L1203.60,125.81L1204.60,125.81" stroke="#5e5290"/>
<path d="M1211.40,125.81L1213.20,125.81L1214.80,125.81L1216.40,125.81L1218.00,125.81L1218.20,125.81" stroke="#5e5290"/>
<path d="M1225.00,125.81L1226.80,125.81L1228.40,125.82L1230.00,125.82L1231.60,125.82L1233.20,125.82L1234.80,125.82L1236.40,125.82L1238.00,125.82L1239.60,125.82L1241.20,125.82L1242.80,125.82L1244.40,125.82L1245.40,125.82" stroke="#5e5290"/>
<path d="M1252.20,125.82L1254.00,125.82L1255.60,125.82L1257.20,125.83L1258.80,125.83L1259.00,125.83" stroke="#5e5290"/>
<path d="M1265.80,125.83L1267.60,125.83L1269.20,125.83L1270.80,125.83L1272.40,125.83L1274.00,125.83L1275.60,125.83L1277.20,125.83L1278.80,125.84L1280.40,125.84L1282.00,125.84L1283.60,125.84L1285.20,125.84L1286.20,125.84" stroke="#5e5290"/>
<path d="M1293.00,125.84L1294.80,125.84L1296.40,125.85L1298.00,125.85L1299.60,125.85L1299.80,125.85" stroke="#5e5290"/>
<path d="M1306.60,125.85L1308.40,125.85L1310.00,125.85L1311.60,125.86L1313.20,125.86L1314.80,125.86L1316.40,125.86L1318.00,125.86L1319.60,125.86L1321.20,125.86L1322.80,125.86L1324.40,125.86L1326.00,125.87L1327.00,125.87" stroke="#5e5290"/>
<path d="M1333.80,125.87L1335.60,125.87L1337.20,125.88L1338.80,125.88L1340.40,125.88L1340.60,125.88" stroke="#5e5290"/>
<path d="M1347.40,125.88L1349.20,125.89L1350.80,125.89L1352.40,125.89L1354.00,125.89L1355.60,125.89L1357.20,125.89L1358.80,125.89L1360.40,125.90L1362.00,125.90L1363.60,125.90L1365.20,125.90L1366.80,125.90L1367.80,125.90" stroke="#5e5290"/>
<path d="M1374.60,125.91L1376.40,125.91L1378.00,125.92L1379.60,125.92L1381.20,125.92L1381.40,125.92" stroke="#5e5290"/>
<path d="M1388.20,125.93L1390.00,125.93L1391.60,125.93L1393.20,125.93L1394.80,125.94L1396.40,125.94L1398.00,125.94L1399.60,125.94L1401.20,125.94L1402.80,125.95L1404.40,125.95L1406.00,125.95L1407.60,125.95L1408.60,125.95" stroke="#5e5290"/>
<path d="M1415.40,125.96L1417.20,125.97L1418.80,125.97L1420.40,125.97L1422.00,125.97L1422.20,125.97" stroke="#5e5290"/>
<path d="M1429.00,125.98L1430.80,125.99L1432.40,125.99L1434.00,125.99L1435.60,125.99L1437.20,126.00L1438.80,126.00L1440.39,126.00L1441.95,126.03L1443.51,126.09L1445.08,126.18L1446.65,126.28L1448.23,126.36L1449.22,126.41" stroke="#5e5290"/>
<path d="M1455.81,126.94L1457.56,127.24L1459.12,127.55L1460.66,127.89L1462.18,128.29L1462.37,128.35" stroke="#5e5290"/>
<path d="M1089.00,127.80L1090.80,127.80L1092.40,127.80L1094.00,127.80L1095.60,127.80L1095.80,127.80" stroke="#b42242"/>
<path d="M1102.60,127.80L1104.40,127.80L1106.00,127.80L1107.60,127.80L1109.20,127.80L1110.80,127.80L1112.40,127.80L1114.00,127.80L1115.60,127.80L1117.20,127.80L1118.80,127.80L1120.40,127.80L1122.00,127.80L1123.00,127.80" stroke="#b42242"/>
<path d="M1129.80,127.80L1131.60,127.80L1133.20,127.80L1134.80,127.80L1136.40,127.80L1136.60,127.80" stroke="#b42242"/>
<path d="M1143.40,127.80L1145.20,127.80L1146.80,127.80L1148.40,127.80L1150.00,127.80L1151.60,127.80L1153.20,127.80L1154.80,127.80L1156.40,127.80L1158.00,127.80L1159.60,127.80L1161.20,127.80L1162.80,127.80L1163.80,127.80" stroke="#b42242"/>
<path d="M1170.60,127.80L1172.40,127.80L1174.00,127.80L1175.60,127.80L1177.20,127.80L1177.40,127.80" stroke="#b42242"/>
<path d="M1184.20,127.81L1186.00,127.81L1187.60,127.81L1189.20,127.81L1190.80,127.81L1192.40,127.81L1194.00,127.81L1195.60,127.81L1197.20,127.81L1198.80,127.81L1200.40,127.81L1202.00,127.81L1203.60,127.81L1204.60,127.81" stroke="#b42242"/>
<path d="M1211.40,127.81L1213.20,127.81L1214.80,127.81L1216.40,127.81L1218.00,127.81L1218.20,127.81" stroke="#b42242"/>
<path d="M1225.00,127.81L1226.80,127.81L1228.40,127.82L1230.00,127.82L1231.60,127.82L1233.20,127.82L1234.80,127.82L1236.40,127.82L1238.00,127.82L1239.60,127.82L1241.20,127.82L1242.80,127.82L1244.40,127.82L1245.40,127.82" stroke="#b42242"/>
<path d="M1252.20,127.82L1254.00,127.82L1255.60,127.82L1257.20,127.83L1258.80,127.83L1259.00,127.83" stroke="#b42242"/>
<path d="M1265.80,127.83L1267.60,127.83L1269.20,127.83L1270.80,127.83L1272.40,127.83L1274.00,127.83L1275.60,127.83L1277.20,127.83L1278.80,127.84L1280.40,127.84L1282.00,127.84L1283.60,127.84L1285.20,127.84L1286.20,127.84" stroke="#b42242"/>
<path d="M1293.00,127.84L1294.80,127.84L1296.40,127.85L1298.00,127.85L1299.60,127.85L1299.80,127.85" stroke="#b42242"/>
<path d="M1306.60,127.85L1308.40,127.85L1310.00,127.85L1311.60,127.86L1313.20,127.86L1314.80,127.86L1316.40,127.86L1318.00,127.86L1319.60,127.86L1321.20,127.86L1322.80,127.86L1324.40,127.86L1326.00,127.87L1327.00,127.87" stroke="#b42242"/>
<path d="M1333.80,127.87L1335.60,127.87L1337.20,127.88L1338.80,127.88L1340.40,127.88L1340.60,127.88" stroke="#b42242"/>
<path d="M1347.40,127.88L1349.20,127.89L1350.80,127.89L1352.40,127.89L1354.00,127.89L1355.60,127.89L1357.20,127.89L1358.80,127.89L1360.40,127.90L1362.00,127.90L1363.60,127.90L1365.20,127.90L1366.80,127.90L1367.80,127.90" stroke="#b42242"/>
<path d="M1374.60,127.91L1376.40,127.91L1378.00,127.92L1379.60,127.92L1381.20,127.92L1381.40,127.92" stroke="#b42242"/>
<path d="M1388.20,127.93L1390.00,127.93L1391.60,127.93L1393.20,127.93L1394.80,127.94L1396.40,127.94L1398.00,127.94L1399.60,127.94L1401.19,127.94L1402.79,127.95L1404.39,127.95L1405.99,127.95L1407.59,127.95L1408.59,127.95" stroke="#b42242"/>
<path d="M1415.39,127.96L1417.19,127.97L1418.79,127.97L1420.39,127.97L1421.99,127.97L1422.19,127.97" stroke="#b42242"/>
<path d="M1428.99,127.98L1430.79,127.99L1432.39,127.99L1433.99,127.99L1435.59,127.99L1437.19,128.00L1438.79,128.00L1440.37,128.00L1441.89,128.03L1443.41,128.09L1444.95,128.18L1446.49,128.25L1448.06,128.27L1449.04,128.27" stroke="#b42242"/>
<path d="M1455.49,128.25L1457.24,128.40L1458.83,128.58L1460.38,128.79L1461.90,129.09L1462.09,129.13" stroke="#b42242"/>
<path d="M1468.71,130.76L1470.40,131.40L1471.90,131.96L1473.39,132.53L1474.87,133.11L1476.32,133.73L1477.75,134.39L1479.19,135.09L1480.60,135.80L1481.98,136.56L1483.31,137.37L1484.59,138.27L1485.80,139.25L1486.50,139.90" stroke="#4f5c96"/>
<path d="M1468.75,130.64L1470.44,131.28L1471.94,131.84L1473.43,132.41L1474.91,132.99L1476.37,133.61L1477.81,134.28L1479.24,134.98L1480.66,135.69L1482.05,136.45L1483.39,137.27L1484.67,138.17L1485.88,139.15L1486.59,139.81" stroke="#c47a70"/>
<path d="M1468.73,130.70L1470.42,131.34L1471.92,131.90L1473.41,132.47L1474.89,133.05L1476.35,133.67L1477.78,134.33L1479.22,135.03L1480.63,135.75L1482.01,136.50L1483.35,137.32L1484.63,138.22L1485.84,139.20L1486.55,139.85" stroke="#4f5c96"/>
<path d="M1469.46,128.85L1471.12,129.49L1472.61,130.05L1474.12,130.62L1475.64,131.21L1477.15,131.85L1478.64,132.55L1480.09,133.25L1481.55,133.99L1483.01,134.78L1484.44,135.66L1485.82,136.64L1487.14,137.71L1487.94,138.44" stroke="#6e4526"/>
<path d="M1469.41,128.97L1471.07,129.61L1472.57,130.17L1474.08,130.73L1475.59,131.33L1477.10,131.97L1478.59,132.66L1480.03,133.37L1481.49,134.10L1482.94,134.89L1484.37,135.77L1485.75,136.74L1487.06,137.80L1487.85,138.53" stroke="#85552e"/>
<path d="M1468.50,131.29L1470.19,131.94L1471.70,132.50L1473.18,133.07L1474.65,133.64L1476.09,134.25L1477.50,134.91L1478.93,135.61L1480.34,136.31L1481.70,137.06L1483.00,137.86L1484.24,138.73L1485.42,139.68L1486.10,140.31" stroke="#d98aa2"/>
<path d="M1490.26,145.31L1491.07,146.90L1491.74,148.32L1492.30,149.78L1492.81,151.28L1492.87,151.47" stroke="#5c6898"/>
<path d="M1494.82,157.96L1495.30,159.69L1495.71,161.23L1496.11,162.78L1496.50,164.32L1496.88,165.88L1497.27,167.43L1497.65,168.98L1498.02,170.53L1498.39,172.09L1498.76,173.64L1499.12,175.20L1499.48,176.76L1499.69,177.73" stroke="#5c6898"/>
<path d="M1500.21,180.07L1500.59,181.83L1500.67,182.22" stroke="#5c6898"/>
<path d="M1502.02,188.88L1502.32,190.45L1502.63,192.02L1502.93,193.59L1503.23,195.16L1503.53,196.73L1503.83,198.30L1504.13,199.87L1504.42,201.44L1504.71,203.02L1504.99,204.59L1505.27,206.16L1505.54,207.74L1505.74,208.92" stroke="#5c6898"/>
<path d="M1506.82,215.63L1507.06,217.21L1507.31,218.79L1507.55,220.37L1507.79,221.95L1507.85,222.35" stroke="#5c6898"/>
<path d="M1508.89,229.07L1509.14,230.65L1509.38,232.23L1509.63,233.81L1509.87,235.39L1510.11,236.97L1510.35,238.55L1510.59,240.14L1510.84,241.72L1511.08,243.30L1511.32,244.88L1511.56,246.46L1511.80,248.04L1511.98,249.23" stroke="#5c6898"/>
<path d="M1513.02,255.95L1513.26,257.53L1513.51,259.11L1513.75,260.69L1513.98,262.28L1514.04,262.67" stroke="#5c6898"/>
<path d="M1515.01,269.40L1515.23,270.98L1515.44,272.56L1515.65,274.15L1515.86,275.73L1516.06,277.32L1516.27,278.91L1516.47,280.49L1516.68,282.08L1516.88,283.67L1517.09,285.26L1517.29,286.84L1517.51,288.43L1517.67,289.62" stroke="#5c6898"/>
<path d="M1518.60,296.36L1518.82,297.94L1519.05,299.53L1518.66,296.76" stroke="#5c6898"/>
<path d="M1519.41,301.82L1519.69,303.48L1519.99,305.23L1520.29,306.94L1520.59,308.61L1520.89,310.25L1521.19,311.84L1521.49,313.41L1521.79,314.94L1522.09,316.44L1522.39,317.92L1522.74,319.61L1523.09,321.28L1523.21,321.86" stroke="#5c6898"/>
<path d="M1524.67,328.50L1525.04,330.17L1525.39,331.72L1525.74,333.25L1526.09,334.75L1526.18,335.13" stroke="#5c6898"/>
<path d="M1527.79,341.74L1528.19,343.28L1528.59,344.81L1528.99,346.32L1529.39,347.80L1529.79,349.25L1530.24,350.84L1530.69,352.38L1531.14,353.87L1531.59,355.32L1532.09,356.90L1532.59,358.46L1533.09,360.00L1533.52,361.31" stroke="#6C689C"/>
<path d="M1535.55,367.80L1535.99,369.25L1536.44,370.73L1536.89,372.23L1537.34,373.73L1537.51,374.31" stroke="#6C689C"/>
<path d="M1539.45,380.83L1539.89,382.33L1540.34,383.90L1540.79,385.49L1541.24,387.09L1541.69,388.70L1542.14,390.30L1542.59,391.90L1543.04,393.48L1543.49,395.04L1543.94,396.57L1544.39,398.06L1544.84,399.50L1545.14,400.42" stroke="#6C689C"/>
<path d="M1547.32,406.86L1547.84,408.32L1548.39,409.82L1548.94,411.28L1549.49,412.72L1549.69,413.23" stroke="#6C689C"/>
<path d="M1552.29,419.52L1552.94,420.88L1553.64,422.24L1554.39,423.63L1555.14,424.94L1555.94,426.25L1556.79,427.54L1557.69,428.79L1558.64,429.98L1559.64,431.13L1560.74,432.24L1561.89,433.30L1563.04,434.31L1564.24,435.29L1564.55,435.54" stroke="#6C689C"/>
<path d="M1570.40,438.97L1571.79,439.55L1573.24,440.11L1574.69,440.60L1576.14,441.04L1576.80,441.23" stroke="#6C689C"/>
<path d="M1583.43,442.76L1584.94,443.03L1586.44,443.26L1587.94,443.49L1589.44,443.70L1590.94,443.90L1592.44,444.09L1593.94,444.25L1595.44,444.38L1596.94,444.50L1596.99,444.50" stroke="#6C689C"/>
<path d="M1490.21,145.34L1491.01,146.92L1491.68,148.34L1492.24,149.80L1492.75,151.30L1492.81,151.49" stroke="#4a7a78"/>
<path d="M1494.76,157.98L1495.24,159.70L1495.65,161.25L1496.05,162.79L1496.44,164.34L1496.82,165.89L1497.20,167.44L1497.59,169.00L1497.96,170.55L1498.33,172.10L1498.70,173.66L1499.06,175.22L1499.41,176.77L1499.63,177.75" stroke="#4a7a78"/>
<path d="M1500.15,180.08L1500.53,181.84L1500.61,182.23" stroke="#4a7a78"/>
<path d="M1501.95,188.89L1502.26,190.46L1502.56,192.03L1502.87,193.60L1503.17,195.17L1503.47,196.74L1503.77,198.31L1504.07,199.88L1504.36,201.46L1504.65,203.03L1504.93,204.60L1505.21,206.17L1505.48,207.75L1505.68,208.93" stroke="#4a7a78"/>
<path d="M1506.75,215.64L1507.00,217.22L1507.24,218.80L1507.49,220.38L1507.73,221.96L1507.79,222.36" stroke="#4a7a78"/>
<path d="M1508.83,229.08L1509.07,230.66L1509.32,232.24L1509.56,233.82L1509.80,235.40L1510.05,236.98L1510.29,238.56L1510.53,240.15L1510.77,241.73L1511.01,243.31L1511.25,244.89L1511.50,246.47L1511.74,248.05L1511.92,249.24" stroke="#4a7a78"/>
<path d="M1512.96,255.96L1513.20,257.54L1513.44,259.12L1513.68,260.70L1513.92,262.29L1513.98,262.68" stroke="#4a7a78"/>
<path d="M1514.95,269.40L1515.17,270.99L1515.38,272.57L1515.59,274.16L1515.80,275.74L1516.00,277.33L1516.20,278.92L1516.41,280.50L1516.61,282.09L1516.82,283.68L1517.02,285.26L1517.23,286.85L1517.44,288.44L1517.60,289.63" stroke="#4a7a78"/>
<path d="M1518.54,296.37L1518.76,297.95L1518.98,299.54L1518.59,296.76" stroke="#4a7a78"/>
<path d="M1519.33,301.83L1519.58,303.46L1519.83,305.08L1520.08,306.68L1520.33,308.27L1520.58,309.84L1520.83,311.39L1521.08,312.93L1521.33,314.45L1521.58,315.96L1521.83,317.45L1522.08,318.94L1522.38,320.70L1522.59,321.97" stroke="#4a7a78"/>
<path d="M1523.76,328.67L1524.03,330.14L1524.33,331.79L1524.63,333.38L1524.93,334.94L1525.01,335.35" stroke="#4a7a78"/>
<path d="M1526.34,342.02L1526.68,343.72L1526.98,345.28L1527.28,346.88L1527.58,348.54L1527.88,350.26L1528.13,351.75L1528.38,353.28L1528.63,354.83L1528.88,356.42L1529.13,358.05L1529.38,359.73L1529.63,361.46L1529.72,362.13" stroke="#2E7D62"/>
<path d="M1530.61,368.88L1530.83,370.79L1531.03,372.67L1531.23,374.63L1531.33,375.64" stroke="#2E7D62"/>
<path d="M1532.00,382.40L1532.18,384.10L1532.38,385.93L1532.58,387.63L1532.78,389.31L1532.98,390.97L1533.18,392.61L1533.38,394.22L1533.58,395.78L1533.78,397.27L1534.03,399.04L1534.28,400.67L1534.58,402.42L1534.61,402.63" stroke="#2E7D62"/>
<path d="M1536.03,409.28L1536.43,410.83L1536.83,412.35L1537.23,413.83L1537.63,415.28L1537.79,415.85" stroke="#2E7D62"/>
<path d="M1539.92,422.30L1540.53,423.69L1541.18,425.08L1541.88,426.45L1542.63,427.76L1543.53,429.05L1544.58,430.19L1545.68,431.22L1546.88,432.17L1548.23,432.94L1549.68,433.36L1551.18,433.69L1552.68,433.94L1554.18,434.12L1554.68,434.16" stroke="#2E7D62"/>
<path d="M1561.48,434.20L1563.03,434.20L1564.58,434.20L1566.13,434.20L1567.68,434.20L1568.28,434.20" stroke="#2E7D62"/>
<path d="M1575.08,434.20L1576.63,434.20L1578.18,434.20L1579.73,434.20L1581.28,434.20L1582.83,434.20L1584.38,434.20L1585.93,434.20L1587.48,434.20L1589.03,434.20L1590.58,434.20L1592.13,434.20L1593.68,434.20L1595.23,434.20L1595.48,434.20" stroke="#2E7D62"/>
<path d="M1489.70,145.61L1490.50,147.18L1491.15,148.57L1491.70,150.00L1492.20,151.48L1492.26,151.66" stroke="#a0404e"/>
<path d="M1494.21,158.13L1494.68,159.85L1495.09,161.39L1495.49,162.93L1495.88,164.48L1496.26,166.03L1496.64,167.58L1497.03,169.13L1497.40,170.68L1497.77,172.24L1498.14,173.79L1498.50,175.34L1498.85,176.90L1499.07,177.87" stroke="#a0404e"/>
<path d="M1500.49,184.50L1500.85,186.26L1501.16,187.83L1501.47,189.39L1501.77,190.96L1501.81,191.16" stroke="#a0404e"/>
<path d="M1503.09,197.83L1503.43,199.60L1503.72,201.17L1504.01,202.74L1504.29,204.31L1504.57,205.88L1504.84,207.45L1505.11,209.02L1505.37,210.60L1505.62,212.17L1505.87,213.75L1506.12,215.33L1506.37,216.91L1506.52,217.90" stroke="#a0404e"/>
<path d="M1507.56,224.62L1507.83,226.40L1508.08,227.98L1508.32,229.56L1508.57,231.14L1508.60,231.34" stroke="#a0404e"/>
<path d="M1509.63,238.06L1509.90,239.84L1510.14,241.42L1510.38,243.00L1510.63,244.58L1510.87,246.16L1511.11,247.75L1511.35,249.33L1511.59,250.91L1511.84,252.49L1512.08,254.07L1512.33,255.65L1512.57,257.23L1512.72,258.22" stroke="#a0404e"/>
<path d="M1513.73,264.94L1513.99,266.72L1514.21,268.30L1514.43,269.88L1514.65,271.46L1514.68,271.66" stroke="#a0404e"/>
<path d="M1515.56,278.39L1515.79,280.18L1515.99,281.77L1516.19,283.35L1516.40,284.94L1516.61,286.53L1516.82,288.12L1517.03,289.71L1517.25,291.29L1517.47,292.88L1517.69,294.47L1517.91,296.05L1518.13,297.64L1518.27,298.63" stroke="#a0404e"/>
<path d="M1518.09,297.36L1518.35,299.19L1518.60,300.82L1518.85,302.42L1519.10,303.98L1519.12,304.08" stroke="#a0404e"/>
<path d="M1520.24,310.79L1520.55,312.54L1520.85,314.23L1521.15,315.90L1521.45,317.55L1521.75,319.19L1522.05,320.83L1522.35,322.46L1522.65,324.09L1522.95,325.72L1523.25,327.35L1523.55,329.00L1523.85,330.66L1523.89,330.86" stroke="#a0404e"/>
<path d="M1525.07,337.55L1525.35,339.11L1525.65,340.79L1525.95,342.45L1526.25,344.08L1526.28,344.25" stroke="#B83A72"/>
<path d="M1527.59,350.92L1527.95,352.59L1528.30,354.21L1528.65,355.81L1529.00,357.40L1529.35,358.99L1529.70,360.60L1530.05,362.23L1530.40,363.89L1530.75,365.56L1531.10,367.23L1531.45,368.91L1531.80,370.59L1531.86,370.87" stroke="#B83A72"/>
<path d="M1533.25,377.52L1533.60,379.14L1533.95,380.77L1534.30,382.39L1534.65,384.04L1534.68,384.17" stroke="#B83A72"/>
<path d="M1536.09,390.82L1536.45,392.45L1536.80,393.99L1537.15,395.46L1537.55,397.06L1537.95,398.55L1538.40,400.16L1538.85,401.72L1539.30,403.22L1539.75,404.65L1540.25,406.16L1540.75,407.58L1541.30,409.01L1541.87,410.36" stroke="#B83A72"/>
<path d="M1544.96,416.41L1545.80,417.76L1546.65,419.08L1547.50,420.34L1548.40,421.60L1548.75,422.05" stroke="#B83A72"/>
<path d="M1553.78,426.58L1555.10,427.31L1556.50,427.86L1557.95,428.37L1559.40,428.83L1560.90,429.22L1562.40,429.49L1563.90,429.60L1565.40,429.61L1566.90,429.62L1568.40,429.63L1569.90,429.64L1571.40,429.65L1572.90,429.65L1573.65,429.66" stroke="#B83A72"/>
<path d="M1580.45,429.68L1581.95,429.68L1583.45,429.69L1584.95,429.69L1586.45,429.69L1587.25,429.69" stroke="#B83A72"/>
<path d="M1594.05,429.70L1595.55,429.70L1597.00,429.70" stroke="#B83A72"/>
<path d="M1492.02,144.38L1492.85,146.03L1493.56,147.54L1494.17,149.11L1494.70,150.66L1494.76,150.86" stroke="#5a5e6e"/>
<path d="M1496.73,157.42L1497.22,159.17L1497.63,160.73L1498.03,162.29L1498.42,163.84L1498.81,165.40L1499.19,166.95L1499.57,168.51L1499.95,170.07L1500.33,171.63L1500.69,173.19L1501.05,174.76L1501.41,176.32L1501.63,177.30" stroke="#5a5e6e"/>
<path d="M1503.06,183.97L1503.42,185.74L1503.73,187.32L1504.04,188.89L1504.35,190.46L1504.39,190.66" stroke="#5a5e6e"/>
<path d="M1505.67,197.34L1506.01,199.11L1506.30,200.69L1506.59,202.27L1506.88,203.85L1507.16,205.43L1507.43,207.01L1507.70,208.59L1507.96,210.18L1508.21,211.76L1508.47,213.34L1508.72,214.93L1508.96,216.51L1509.11,217.50" stroke="#5a5e6e"/>
<path d="M1510.15,224.22L1510.42,226.00L1510.67,227.58L1510.92,229.16L1511.16,230.74L1511.19,230.94" stroke="#5a5e6e"/>
<path d="M1512.22,237.66L1512.50,239.44L1512.74,241.02L1512.98,242.60L1513.22,244.19L1513.46,245.77L1513.70,247.35L1513.94,248.93L1514.19,250.51L1514.43,252.09L1514.68,253.67L1514.92,255.25L1515.16,256.84L1515.32,257.82" stroke="#5a5e6e"/>
<path d="M1516.33,264.56L1516.59,266.34L1516.81,267.93L1517.03,269.52L1517.25,271.11L1517.28,271.31" stroke="#5a5e6e"/>
<path d="M1518.16,278.06L1518.39,279.85L1518.59,281.43L1518.80,283.02L1519.00,284.60L1519.21,286.19L1519.42,287.77L1519.63,289.35L1519.85,290.94L1520.07,292.52L1520.29,294.10L1520.51,295.69L1520.73,297.27L1520.87,298.26" stroke="#5a5e6e"/>
<path d="M1520.69,297.00L1520.95,298.83L1521.20,300.68L1521.40,302.29L1521.55,303.54" stroke="#5a5e6e"/>
<path d="M1521.56,303.63L1521.60,303.89" stroke="#5a5e6e"/>
<path d="M1521.73,305.03L1521.90,306.58L1522.10,308.37L1522.30,310.19L1522.48,311.79" stroke="#5a5e6e"/>
<path d="M1523.25,318.54L1523.45,320.14L1523.65,321.65L1523.90,323.38L1524.15,324.95L1524.40,326.47L1524.70,328.23L1525.00,329.91L1525.30,331.53L1525.60,333.06L1525.95,334.74L1526.30,336.30L1526.70,337.92L1526.89,338.60" stroke="#5a5e6e"/>
<path d="M1528.95,345.08L1529.60,346.44L1530.55,347.61L1531.65,348.64L1532.95,349.48L1533.63,349.73" stroke="#4a4a4a"/>
<path d="M1540.40,350.20L1541.95,350.20L1543.50,350.20L1545.05,350.20L1546.60,350.20L1548.15,350.20L1549.70,350.20L1551.25,350.20L1552.80,350.20L1554.35,350.20L1555.90,350.20L1557.45,350.20L1559.00,350.20L1560.55,350.20L1560.80,350.20" stroke="#4a4a4a"/>
<path d="M1567.60,350.20L1569.15,350.20L1570.70,350.20L1572.25,350.20L1573.80,350.20L1574.40,350.20" stroke="#4a4a4a"/>
<path d="M1581.20,350.20L1582.75,350.20L1584.30,350.20L1585.85,350.20L1587.40,350.20L1588.95,350.20L1590.50,350.20L1592.05,350.20L1593.60,350.20L1595.15,350.20L1596.70,350.20L1596.95,350.20" stroke="#4a4a4a"/>
<path d="M1491.91,144.44L1492.74,146.08L1493.44,147.59L1494.05,149.15L1494.58,150.70L1494.64,150.90" stroke="#8a5a36"/>
<path d="M1496.61,157.45L1497.09,159.20L1497.50,160.76L1497.91,162.32L1498.30,163.87L1498.69,165.43L1499.07,166.99L1499.45,168.54L1499.83,170.10L1500.20,171.66L1500.57,173.22L1500.93,174.79L1501.29,176.35L1501.51,177.33" stroke="#8a5a36"/>
<path d="M1502.94,184.00L1503.29,185.77L1503.61,187.34L1503.92,188.91L1504.22,190.49L1504.26,190.68" stroke="#8a5a36"/>
<path d="M1505.54,197.37L1505.88,199.14L1506.17,200.71L1506.46,202.29L1506.75,203.87L1507.03,205.45L1507.30,207.03L1507.57,208.61L1507.83,210.20L1508.09,211.78L1508.34,213.36L1508.59,214.95L1508.83,216.53L1508.99,217.52" stroke="#8a5a36"/>
<path d="M1510.02,224.24L1510.30,226.01L1510.54,227.60L1510.79,229.18L1511.03,230.76L1511.06,230.96" stroke="#8a5a36"/>
<path d="M1512.10,237.68L1512.37,239.46L1512.61,241.04L1512.85,242.62L1513.09,244.21L1513.33,245.79L1513.57,247.37L1513.82,248.95L1514.06,250.53L1514.30,252.11L1514.55,253.69L1514.79,255.27L1515.04,256.85L1515.19,257.84" stroke="#8a5a36"/>
<path d="M1516.20,264.58L1516.46,266.36L1516.69,267.95L1516.91,269.54L1517.12,271.13L1517.15,271.33" stroke="#8a5a36"/>
<path d="M1518.03,278.08L1518.26,279.86L1518.47,281.45L1518.67,283.03L1518.88,284.62L1519.08,286.20L1519.29,287.79L1519.51,289.37L1519.72,290.95L1519.94,292.54L1520.16,294.12L1520.38,295.71L1520.60,297.29L1520.74,298.28" stroke="#8a5a36"/>
<path d="M1520.57,297.02L1520.83,298.84L1521.08,300.70L1521.28,302.30L1521.43,303.55" stroke="#8a5a36"/>
<path d="M1521.44,303.64L1521.47,303.90" stroke="#8a5a36"/>
<path d="M1521.68,305.71L1521.88,307.47L1522.08,309.27L1522.28,311.08L1522.43,312.47" stroke="#8a5a36"/>
<path d="M1523.21,319.23L1523.43,320.99L1523.63,322.49L1523.88,324.22L1524.13,325.78L1524.38,327.27L1524.68,328.99L1524.98,330.65L1525.28,332.25L1525.58,333.77L1525.93,335.47L1526.28,337.07L1526.63,338.59L1526.80,339.30" stroke="#8a5a36"/>
<path d="M1528.59,345.86L1529.03,347.32L1529.53,348.84L1530.08,350.29L1530.78,351.68L1531.11,352.14" stroke="#86672C"/>
<path d="M1536.73,355.42L1538.23,355.55L1539.73,355.60L1541.23,355.60L1542.78,355.60L1544.33,355.60L1545.88,355.60L1547.43,355.60L1548.98,355.60L1550.53,355.60L1552.08,355.60L1553.63,355.60L1555.18,355.60L1556.73,355.60L1557.12,355.60" stroke="#86672C"/>
<path d="M1563.92,355.60L1565.43,355.60L1566.98,355.60L1568.53,355.60L1570.08,355.60L1570.72,355.60" stroke="#86672C"/>
<path d="M1577.52,355.60L1579.03,355.60L1580.58,355.60L1582.13,355.60L1583.68,355.60L1585.23,355.60L1586.78,355.60L1588.33,355.60L1589.88,355.60L1591.43,355.60L1592.98,355.60L1594.53,355.60L1596.08,355.60L1596.98,355.60" stroke="#86672C"/>
<path d="M1490.32,145.28L1491.13,146.87L1491.79,148.29L1492.36,149.76L1492.87,151.26L1492.93,151.45" stroke="#9c4a30"/>
<path d="M1494.88,157.94L1495.36,159.67L1495.77,161.21L1496.17,162.76L1496.56,164.31L1496.95,165.86L1497.33,167.41L1497.71,168.97L1498.09,170.52L1498.46,172.07L1498.82,173.63L1499.18,175.19L1499.54,176.75L1499.76,177.72" stroke="#9c4a30"/>
<path d="M1501.18,184.36L1501.54,186.12L1501.85,187.69L1502.16,189.26L1502.46,190.83L1502.50,191.02" stroke="#9c4a30"/>
<path d="M1503.78,197.70L1504.12,199.47L1504.41,201.04L1504.70,202.61L1504.99,204.18L1505.26,205.76L1505.54,207.33L1505.80,208.91L1506.06,210.49L1506.32,212.06L1506.57,213.64L1506.82,215.22L1507.06,216.80L1507.22,217.79" stroke="#9c4a30"/>
<path d="M1508.25,224.51L1508.53,226.29L1508.77,227.87L1509.02,229.45L1509.26,231.03L1509.29,231.23" stroke="#9c4a30"/>
<path d="M1510.33,237.95L1510.60,239.73L1510.84,241.31L1511.08,242.89L1511.32,244.48L1511.56,246.06L1511.80,247.64L1512.05,249.22L1512.29,250.80L1512.53,252.38L1512.78,253.97L1513.02,255.55L1513.27,257.13L1513.42,258.12" stroke="#9c4a30"/>
<path d="M1514.43,264.84L1514.69,266.62L1514.91,268.20L1515.13,269.78L1515.35,271.37L1515.37,271.56" stroke="#9c4a30"/>
<path d="M1516.25,278.30L1516.48,280.09L1516.69,281.68L1516.89,283.26L1517.10,284.85L1517.31,286.44L1517.52,288.03L1517.73,289.61L1517.95,291.20L1518.17,292.78L1518.39,294.37L1518.61,295.95L1518.83,297.54L1518.97,298.53" stroke="#9c4a30"/>
<path d="M1518.79,297.26L1519.00,298.77L1519.25,300.47L1519.50,302.07L1519.75,303.64L1519.81,303.98" stroke="#9c4a30"/>
<path d="M1520.93,310.69L1521.20,312.26L1521.50,313.95L1521.80,315.63L1522.10,317.28L1522.40,318.91L1522.70,320.53L1523.00,322.13L1523.30,323.72L1523.60,325.30L1523.90,326.87L1524.20,328.44L1524.50,330.01L1524.64,330.75" stroke="#9c4a30"/>
<path d="M1525.94,337.43L1526.25,339.00L1526.55,340.49L1526.85,341.97L1527.20,343.68L1527.29,344.09" stroke="#B0622E"/>
<path d="M1528.72,350.74L1529.05,352.23L1529.40,353.75L1529.75,355.25L1530.10,356.73L1530.50,358.40L1530.90,360.03L1531.30,361.62L1531.70,363.19L1532.10,364.71L1532.50,366.20L1532.90,367.65L1533.35,369.24L1533.72,370.51" stroke="#B0622E"/>
<path d="M1535.73,377.01L1536.20,378.45L1536.70,379.95L1537.20,381.42L1537.70,382.88L1537.90,383.45" stroke="#B0622E"/>
<path d="M1540.20,389.85L1540.75,391.31L1541.30,392.74L1541.85,394.16L1542.45,395.67L1543.05,397.15L1543.65,398.61L1544.25,400.06L1544.85,401.50L1545.45,402.92L1546.05,404.32L1546.65,405.70L1547.30,407.15L1547.95,408.56L1548.01,408.69" stroke="#B0622E"/>
<path d="M1551.17,414.71L1551.95,416.03L1552.80,417.37L1553.70,418.67L1554.65,419.86L1555.04,420.29" stroke="#B0622E"/>
<path d="M1560.08,424.85L1561.20,425.92L1562.30,426.99L1563.40,428.06L1564.55,429.12L1565.70,430.08L1566.95,430.97L1568.25,431.75L1569.60,432.48L1570.95,433.14L1572.35,433.77L1573.75,434.33L1575.20,434.87L1576.65,435.36L1577.13,435.52" stroke="#B0622E"/>
<path d="M1583.70,437.26L1585.20,437.60L1586.70,437.92L1588.20,438.21L1589.70,438.47L1590.37,438.58" stroke="#B0622E"/>
<path d="M1463.86,150.22L1465.05,151.22L1466.25,152.20L1467.45,153.16L1468.65,154.11L1469.85,155.06L1471.05,156.02L1472.25,156.99L1473.45,157.97L1474.65,158.95L1475.85,159.92L1477.05,160.92L1478.20,161.90L1479.35,162.92L1479.62,163.16" stroke="#D6AC48"/>
<path d="M1484.36,168.03L1485.40,169.20L1486.40,170.34L1487.40,171.49L1488.40,172.63L1488.84,173.15" stroke="#D6AC48"/>
<path d="M1493.18,178.39L1494.10,179.61L1495.00,180.84L1495.90,182.14L1496.75,183.49L1497.55,184.83L1498.30,186.15L1499.05,187.48L1499.80,188.80L1500.60,190.17L1501.40,191.48L1502.20,192.76L1503.05,194.09L1503.90,195.40L1504.05,195.63" stroke="#D6AC48"/>
<path d="M1507.70,201.36L1508.50,202.69L1509.30,204.07L1510.05,205.41L1510.80,206.80L1511.05,207.28" stroke="#D6AC48"/>
<path d="M1514.11,213.35L1514.80,214.79L1515.45,216.16L1516.10,217.54L1516.75,218.95L1517.40,220.38L1518.05,221.85L1518.70,223.33L1519.30,224.71L1519.90,226.10L1520.50,227.50L1521.10,228.90L1521.70,230.30L1522.30,231.70L1522.42,231.98" stroke="#D6AC48"/>
<path d="M1525.07,238.24L1525.65,239.64L1526.25,241.12L1526.85,242.63L1527.45,244.15L1527.61,244.55" stroke="#D6AC48"/>
<path d="M1530.03,250.91L1530.55,252.33L1531.10,253.88L1531.60,255.31L1532.10,256.79L1532.60,258.34L1533.05,259.78L1533.50,261.25L1533.95,262.74L1534.40,264.24L1534.85,265.74L1535.30,267.22L1535.75,268.67L1536.25,270.24L1536.28,270.32" stroke="#D6AC48"/>
<path d="M1538.54,276.73L1539.10,278.23L1539.65,279.73L1540.20,281.28L1540.70,282.75L1540.83,283.14" stroke="#D6AC48"/>
<path d="M1542.80,289.64L1543.25,291.25L1543.65,292.70L1544.05,294.18L1544.45,295.68L1544.85,297.20L1545.25,298.74L1545.65,300.29L1546.05,301.85L1546.45,303.43L1546.85,305.00L1547.25,306.59L1547.65,308.17L1547.95,309.38" stroke="#D6AC48"/>
<path d="M1549.62,315.97L1550.00,317.52L1550.40,319.18L1550.75,320.65L1551.10,322.12L1551.21,322.58" stroke="#D6AC48"/>
<path d="M1552.78,329.20L1553.15,330.74L1553.55,332.37L1553.95,333.97L1554.35,335.54L1554.75,337.07L1555.15,338.55L1555.55,340.00L1556.00,341.59L1556.45,343.16L1556.90,344.69L1557.35,346.20L1557.80,347.70L1558.16,348.88" stroke="#D6AC48"/>
<path d="M1560.17,355.37L1560.65,356.92L1561.10,358.38L1561.55,359.85L1562.00,361.34L1562.16,361.87" stroke="#D6AC48"/>
<path d="M1564.09,368.39L1564.55,369.94L1565.00,371.46L1565.45,372.96L1565.90,374.45L1566.35,375.92L1566.80,377.37L1567.30,378.94L1567.80,380.50L1568.30,382.05L1568.80,383.58L1569.30,385.08L1569.80,386.56L1570.24,387.84" stroke="#D6AC48"/>
<path d="M1572.57,394.23L1573.15,395.75L1573.70,397.17L1574.25,398.57L1574.85,400.09L1575.04,400.57" stroke="#D6AC48"/>
<path d="M1577.53,406.89L1578.10,408.32L1578.70,409.81L1579.30,411.29L1579.90,412.76L1580.50,414.22L1581.10,415.68L1581.70,417.15L1582.30,418.61L1582.90,420.05L1583.50,421.46L1584.15,422.94L1584.80,424.36L1585.45,425.69" stroke="#D6AC48"/>
<path d="M1588.56,431.73L1589.35,433.12L1590.15,434.44L1591.00,435.72L1591.90,436.93L1592.29,437.41" stroke="#D6AC48"/>
</g>
<line x1="1366.5" y1="153.8" x2="1574.7" y2="153.8" stroke="#0c3a0c" stroke-width="3.6"/>
<line x1="1370.1" y1="153.7" x2="1570.6" y2="153.7" stroke="#1f7020" stroke-width="6.2"/>
<line x1="1370.6" y1="153.7" x2="1570.1" y2="153.7" stroke="#2f932f" stroke-width="4.0"/>
<g fill="none" stroke-width="3.3" clip-path="url(#pc)">
<path d="M1089.00,102.30L1090.55,102.30L1092.10,102.30L1093.65,102.30L1095.20,102.30L1095.80,102.30" stroke="#688F44"/>
<path d="M1102.60,102.30L1104.15,102.30L1105.70,102.30L1107.25,102.30L1108.80,102.30L1110.35,102.30L1111.90,102.30L1113.45,102.30L1115.00,102.30L1116.55,102.30L1118.10,102.30L1119.65,102.30L1121.20,102.30L1122.75,102.30L1123.00,102.30" stroke="#688F44"/>
<path d="M1129.80,102.30L1131.35,102.30L1132.90,102.30L1134.45,102.30L1136.00,102.30L1136.60,102.30" stroke="#688F44"/>
<path d="M1143.40,102.30L1144.95,102.30L1146.50,102.30L1148.05,102.30L1149.60,102.30L1151.15,102.30L1152.70,102.30L1154.25,102.30L1155.80,102.30L1157.35,102.30L1158.90,102.30L1160.45,102.30L1162.00,102.30L1163.55,102.30L1163.80,102.30" stroke="#688F44"/>
<path d="M1170.60,102.30L1172.15,102.30L1173.70,102.30L1175.25,102.30L1176.80,102.30L1177.40,102.30" stroke="#688F44"/>
<path d="M1184.20,102.30L1185.75,102.30L1187.30,102.30L1188.85,102.30L1190.40,102.30L1191.95,102.30L1193.50,102.30L1195.05,102.30L1196.60,102.30L1198.15,102.30L1199.70,102.30L1201.25,102.30L1202.80,102.30L1204.35,102.30L1204.60,102.30" stroke="#688F44"/>
<path d="M1211.40,102.30L1212.95,102.30L1214.50,102.30L1216.05,102.30L1217.60,102.30L1218.20,102.30" stroke="#688F44"/>
<path d="M1225.00,102.30L1226.55,102.30L1228.10,102.30L1229.65,102.30L1231.20,102.30L1232.75,102.30L1234.30,102.30L1235.85,102.30L1237.40,102.30L1238.95,102.30L1240.50,102.30L1242.05,102.30L1243.60,102.30L1245.15,102.30L1245.40,102.30" stroke="#688F44"/>
<path d="M1252.20,102.30L1253.75,102.30L1255.30,102.30L1256.85,102.30L1258.40,102.30L1259.00,102.30" stroke="#688F44"/>
<path d="M1265.80,102.30L1267.35,102.30L1268.90,102.30L1270.45,102.30L1272.00,102.30L1273.55,102.30L1275.10,102.30L1276.65,102.30L1278.20,102.30L1279.75,102.30L1281.30,102.30L1282.85,102.30L1284.40,102.30L1285.95,102.30L1286.20,102.30" stroke="#688F44"/>
<path d="M1293.00,102.30L1294.55,102.30L1296.10,102.30L1297.65,102.30L1299.20,102.30L1299.80,102.30" stroke="#688F44"/>
<path d="M1306.60,102.30L1308.10,102.30L1309.60,102.30L1311.10,102.30L1312.60,102.30L1314.10,102.30L1315.60,102.30L1317.10,102.30L1318.60,102.30L1320.10,102.30L1321.60,102.31L1323.10,102.31L1324.60,102.31L1326.10,102.31L1327.00,102.31" stroke="#688F44"/>
<path d="M1333.80,102.31L1335.30,102.32L1336.80,102.32L1338.30,102.32L1339.80,102.32L1340.60,102.32" stroke="#688F44"/>
<path d="M1347.40,102.33L1348.90,102.33L1350.40,102.33L1351.90,102.34L1353.40,102.34L1354.90,102.34L1356.40,102.34L1357.90,102.35L1359.40,102.35L1360.90,102.35L1362.40,102.36L1363.90,102.36L1365.40,102.36L1366.90,102.36L1367.80,102.37" stroke="#688F44"/>
<path d="M1374.60,102.38L1376.10,102.39L1377.60,102.39L1379.10,102.39L1380.60,102.40L1381.40,102.40" stroke="#688F44"/>
<path d="M1388.20,102.42L1389.70,102.43L1391.20,102.43L1392.70,102.44L1394.20,102.44L1395.70,102.45L1397.20,102.45L1398.70,102.46L1400.20,102.46L1401.70,102.47L1403.20,102.47L1404.70,102.48L1406.20,102.49L1407.70,102.49L1408.60,102.50" stroke="#688F44"/>
<path d="M1415.40,102.53L1416.90,102.53L1418.40,102.54L1419.90,102.55L1421.40,102.56L1422.20,102.56" stroke="#688F44"/>
<path d="M1429.00,102.59L1430.50,102.60L1432.00,102.62L1433.50,102.65L1435.00,102.68L1436.50,102.72L1438.00,102.78L1439.50,102.84L1441.00,102.90L1442.50,102.98L1444.00,103.06L1445.50,103.15L1447.00,103.25L1448.50,103.35L1449.38,103.41" stroke="#688F44"/>
<path d="M1456.16,103.95L1457.70,104.09L1459.20,104.23L1460.70,104.37L1462.20,104.56L1462.92,104.67" stroke="#688F44"/>
<path d="M1469.58,106.02L1471.05,106.36L1472.55,106.72L1474.05,107.07L1475.55,107.40L1477.05,107.73L1478.55,108.06L1480.05,108.39L1481.55,108.73L1483.05,109.08L1484.55,109.44L1486.05,109.81L1487.55,110.19L1489.05,110.56L1489.44,110.66" stroke="#688F44"/>
<path d="M1496.00,112.48L1497.45,112.95L1498.90,113.45L1500.35,113.97L1501.80,114.52L1502.40,114.76" stroke="#688F44"/>
<path d="M1508.58,117.58L1509.95,118.31L1511.25,119.06L1512.55,119.86L1513.85,120.71L1515.10,121.57L1516.35,122.47L1517.60,123.40L1518.80,124.33L1520.00,125.28L1521.20,126.26L1522.40,127.26L1523.55,128.24L1524.70,129.24L1525.05,129.54" stroke="#688F44"/>
<path d="M1529.98,134.22L1531.05,135.36L1532.10,136.52L1533.10,137.67L1534.10,138.87L1534.47,139.33" stroke="#688F44"/>
<path d="M1538.39,144.88L1539.20,146.19L1540.00,147.51L1540.80,148.87L1541.60,150.25L1542.35,151.57L1543.10,152.90L1543.85,154.23L1544.60,155.58L1545.35,156.97L1546.05,158.30L1546.75,159.65L1547.45,161.03L1548.15,162.43L1548.29,162.71" stroke="#688F44"/>
<path d="M1551.25,168.83L1551.90,170.18L1552.55,171.55L1553.20,172.92L1553.85,174.31L1554.16,174.97" stroke="#688F44"/>
<path d="M1556.97,181.17L1557.60,182.58L1558.25,184.05L1558.90,185.51L1559.55,186.98L1560.20,188.45L1560.85,189.90L1561.50,191.34L1562.15,192.79L1562.80,194.25L1563.40,195.62L1564.00,197.03L1564.60,198.49L1565.14,199.86" stroke="#688F44"/>
<path d="M1567.55,206.22L1568.10,207.74L1568.65,209.29L1569.15,210.73L1569.65,212.21L1569.79,212.63" stroke="#688F44"/>
<path d="M1571.84,219.12L1572.30,220.66L1572.75,222.23L1573.15,223.69L1573.55,225.20L1573.95,226.77L1574.35,228.38L1574.75,230.03L1575.10,231.50L1575.45,232.99L1575.80,234.49L1576.15,236.01L1576.50,237.53L1576.82,238.90" stroke="#688F44"/>
<path d="M1578.36,245.52L1578.70,247.00L1579.05,248.51L1579.40,250.03L1579.75,251.56L1579.88,252.15" stroke="#688F44"/>
<path d="M1581.39,258.78L1581.75,260.40L1582.10,261.96L1582.45,263.53L1582.80,265.09L1583.15,266.65L1583.50,268.22L1583.85,269.78L1584.20,271.34L1584.55,272.91L1584.90,274.48L1585.25,276.06L1585.60,277.64L1585.83,278.69" stroke="#688F44"/>
<path d="M1587.30,285.33L1587.65,286.93L1588.00,288.51L1588.35,290.09L1588.70,291.66L1588.77,291.97" stroke="#688F44"/>
<path d="M1590.26,298.60L1590.60,300.14L1590.95,301.69L1591.30,303.25L1591.65,304.80L1592.00,306.35L1592.35,307.89L1592.70,309.44L1593.05,310.98L1593.40,312.51L1593.75,314.04L1594.10,315.57L1594.45,317.09L1594.78,318.50" stroke="#688F44"/>
<path d="M1596.32,325.12L1596.70,326.73L1597.00,328.00" stroke="#688F44"/>
</g>
<circle cx="1484.6" cy="153.7" r="9.1" fill="#e01818" stroke="#9a0a0a" stroke-width="1.2"/>
</svg>
</body></html>
